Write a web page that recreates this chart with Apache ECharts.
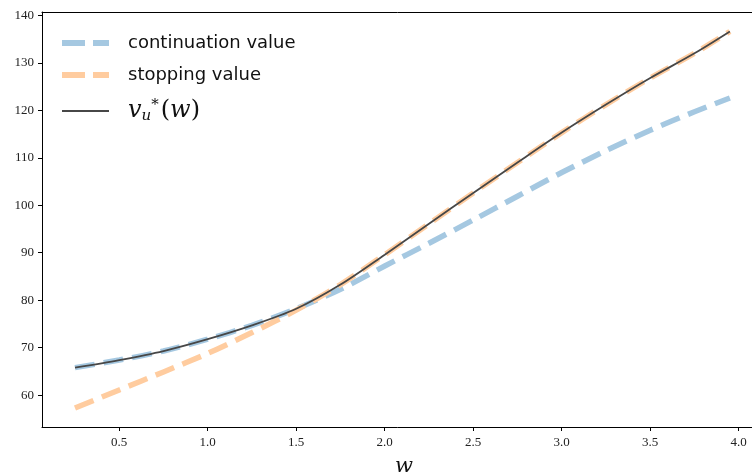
<!DOCTYPE html>
<html>
<head>
<meta charset="utf-8">
<script src="https://cdn.jsdelivr.net/npm/echarts@6/dist/echarts.min.js"></script>
<style>
html,body{margin:0;padding:0;background:#fff;}
#c{width:752px;height:474px;}
</style>
</head>
<body>
<div id="c"></div>
<script>
const wValues = [0.25, 0.5, 0.75, 1.0, 1.25, 1.5, 1.75, 2.0, 2.25, 2.5, 2.75, 3.0, 3.25, 3.5, 3.75, 3.95];
const continuationValue = [65.8, 67.4, 69.3, 71.8, 74.7, 78.2, 82.3, 87.2, 92.0, 96.9, 101.9, 106.9, 111.5, 115.8, 119.7, 122.6];
const stoppingValue = [57.3, 61.1, 64.9, 68.8, 73.2, 77.9, 83.3, 89.6, 96.1, 102.6, 109.0, 115.3, 121.2, 126.8, 132.0, 136.6];
const vStar = [65.8, 67.4, 69.3, 71.8, 74.7, 78.2, 83.3, 89.6, 96.1, 102.6, 109.0, 115.3, 121.2, 126.8, 132.0, 136.6];
const xTicks = [0.5, 1.0, 1.5, 2.0, 2.5, 3.0, 3.5, 4.0];
const yTicks = [60, 70, 80, 90, 100, 110, 120, 130, 140];
const seriesNames = ['continuation value', 'stopping value', 'v*u(w)'];

const pairs = (ys) => wValues.map((x, i) => [x, ys[i]]);
const serif = 'Liberation Serif';
const mathFont = 'DejaVu Serif';
const dashIcon = 'path://M0,0h23v6h-23z M31,0h16v6h-16z';
const solidIcon = 'path://M0,0h47v0.01h-47z M0,2.1h47v1.8h-47z M0,5.99h47v0.01h-47z';

const chart = echarts.init(document.getElementById('c'), null, {renderer: 'canvas'});
chart.setOption({
  animation: false,
  backgroundColor: '#fff',
  grid: {left: 42, right: -14, top: 12, bottom: 47, outerBoundsMode: 'none', containLabel: false, show: false},
  legend: {
    left: 62, top: 34, padding: 0, orient: 'vertical', itemWidth: 47, itemHeight: 6, itemGap: 14,
    data: [
      {name: seriesNames[0], icon: dashIcon},
      {name: seriesNames[1], icon: dashIcon},
      {name: seriesNames[2], icon: solidIcon}
    ],
    itemStyle: {borderWidth: 0},
    lineStyle: {width: 0},
    textStyle: {
      fontFamily: 'DejaVu Sans', fontSize: 18, color: '#111', padding: [0, 0, 0, 14],
      rich: {
        v: {fontFamily: mathFont, fontStyle: 'italic', fontSize: 24, color: '#111'},
        u: {fontFamily: mathFont, fontStyle: 'italic', fontSize: 15, color: '#111', verticalAlign: 'bottom', padding: [11, 0, 0, 0]},
        s: {fontFamily: mathFont, fontSize: 15, color: '#111', verticalAlign: 'top', padding: [0, 2, 9, 0]},
        p: {fontFamily: mathFont, fontSize: 24, color: '#111'},
        w: {fontFamily: mathFont, fontStyle: 'italic', fontSize: 24, color: '#111'}
      }
    },
    formatter: function (name) {
      if (name === 'v*u(w)') return '{v|v}{u|u}{s|*}{p|(}{w|w}{p|)}';
      return name;
    }
  },
  xAxis: [{
    type: 'value', min: 0.0636, max: 4.154, position: 'bottom',
    splitLine: {show: false},
    axisLine: {onZero: false, lineStyle: {color: '#000', width: 1}},
    axisTick: {show: true, length: 4, lineStyle: {color: '#000'}, customValues: xTicks},
    axisLabel: {fontFamily: serif, fontSize: 13, color: '#222', margin: 9, customValues: xTicks,
      formatter: v => v.toFixed(1)},
    name: 'w', nameLocation: 'middle', nameGap: 29,
    nameTextStyle: {fontFamily: mathFont, fontStyle: 'italic', fontSize: 21, color: '#111'}
  }, {
    type: 'value', min: 0.0636, max: 4.154, position: 'top',
    splitLine: {show: false},
    axisLine: {show: true, onZero: false, lineStyle: {color: '#000', width: 1}},
    axisTick: {show: false}, axisLabel: {show: false}
  }],
  yAxis: {
    type: 'value', min: 53.3, max: 140.7,
    splitLine: {show: false},
    axisLine: {show: true, onZero: false, lineStyle: {color: '#000', width: 1}},
    axisTick: {show: true, length: 4, lineStyle: {color: '#000'}, customValues: yTicks},
    axisLabel: {fontFamily: serif, fontSize: 13, color: '#222', margin: 8, customValues: yTicks}
  },
  series: [
    {
      name: seriesNames[0], type: 'line', data: pairs(continuationValue), smooth: 0.3,
      symbol: 'none', showSymbol: false, z: 2,
      lineStyle: {color: '#a5c8e1', width: 5.5, type: [20, 9], cap: 'butt'},
      itemStyle: {color: '#a5c8e1'}
    },
    {
      name: seriesNames[1], type: 'line', data: pairs(stoppingValue), smooth: 0.3,
      symbol: 'none', showSymbol: false, z: 3,
      lineStyle: {color: '#ffcc9f', width: 5.5, type: [20, 9], cap: 'butt'},
      itemStyle: {color: '#ffcc9f'}
    },
    {
      name: seriesNames[2], type: 'line', data: pairs(vStar), smooth: 0.3,
      symbol: 'none', showSymbol: false, z: 4,
      lineStyle: {color: '#474747', width: 1.8},
      itemStyle: {color: '#474747'}
    }
  ]
});
</script>
</body>
</html>
